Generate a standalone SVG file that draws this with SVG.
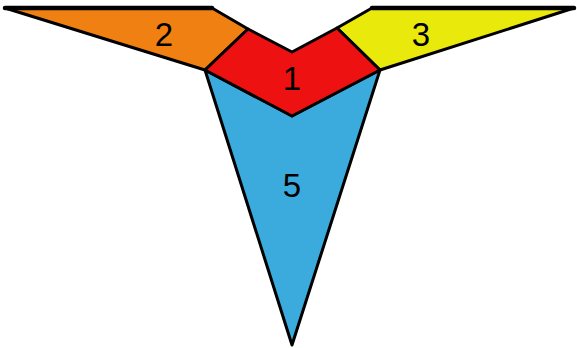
<svg xmlns="http://www.w3.org/2000/svg" width="577" height="348" viewBox="0 0 577 348">
<style>
.p{stroke:#000;stroke-width:3;stroke-linejoin:round}
.top{stroke:#000;stroke-width:4.5;stroke-linecap:round;fill:none}
.t{font-family:"Liberation Sans",Arial,sans-serif;font-size:33px;fill:#000;text-anchor:middle}
</style>
<rect width="577" height="348" fill="#fff"/>
<g id="n5"><polygon class="p" fill="#3aabdc" points="205,70 292,116 380,70 292,345"/><text class="t" x="292" y="197">5</text></g>
<g id="n2"><polygon class="p" fill="#ef8011" points="5,8 212,8 248,29 205,70"/><line class="top" x1="5" y1="8" x2="212" y2="8"/><text class="t" x="164" y="46">2</text></g>
<g id="n3"><polygon class="p" fill="#e9e90c" points="574,8 372,8 337,28 380,70"/><line class="top" x1="372" y1="8" x2="574" y2="8"/><text class="t" x="421" y="46">3</text></g>
<g id="n1"><polygon class="p" fill="#ee1111" points="248,29 292,52 337,28 380,70 292,116 205,70"/><text class="t" x="292" y="90">1</text></g>
</svg>
